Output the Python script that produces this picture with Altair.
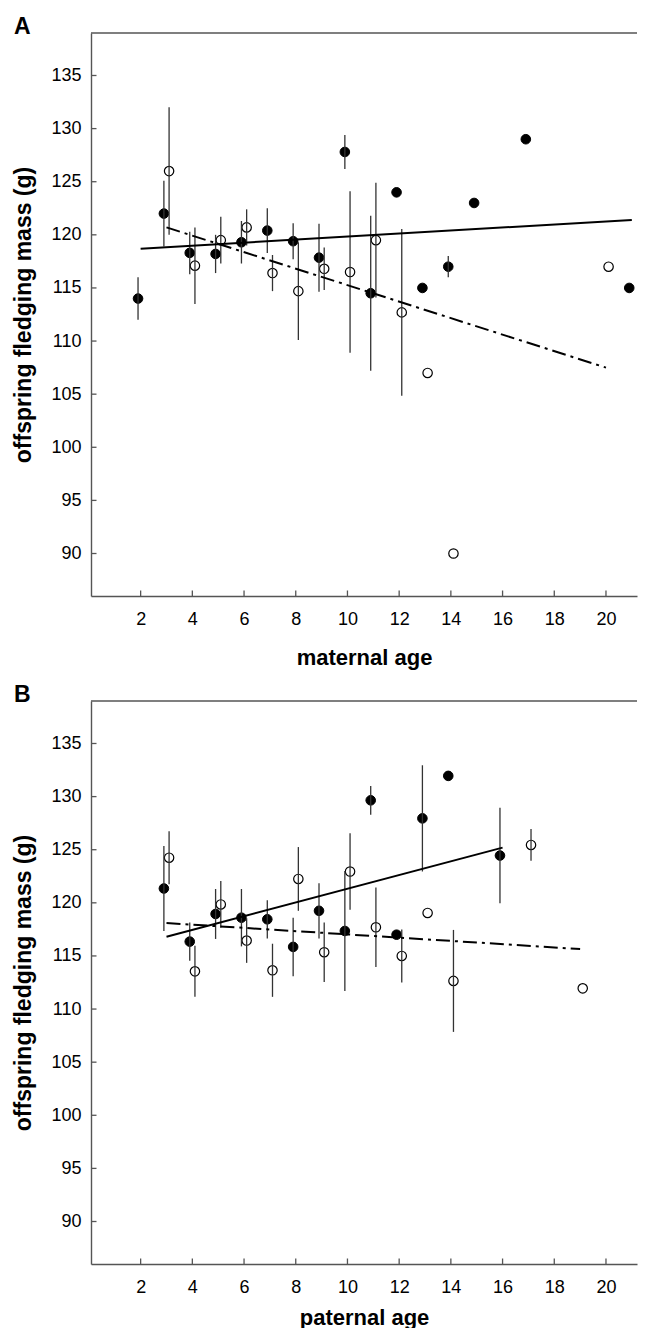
import altair as alt
import pandas as pd

# ---------------- data ----------------
# Panel A: maternal age
A_F_AGE = [2, 3, 4, 5, 6, 7, 8, 9, 10, 11, 12, 13, 14, 15, 17, 21]
A_F_MEAN = [114.0, 122.0, 118.3, 118.2, 119.3, 120.4, 119.4, 117.85, 127.8, 114.5, 124.0, 115.0, 117.0, 123.0, 129.0, 115.0]
A_F_ERR = [2.0, 3.1, 2.0, 1.8, 2.0, 2.1, 1.7, 3.2, 1.6, 7.3, 0, 0, 1.0, 0, 0, 0]

A_O_AGE = [3, 4, 5, 6, 7, 8, 9, 10, 11, 12, 13, 14, 20]
A_O_MEAN = [126.0, 117.1, 119.5, 120.7, 116.4, 114.7, 116.8, 116.5, 119.5, 112.7, 107.0, 90.0, 117.0]
A_O_ERR = [6.0, 3.6, 2.2, 1.7, 1.7, 4.6, 2.0, 7.6, 5.4, 7.85, 0, 0, 0]

A_SOLID_X = [2, 21]
A_SOLID_Y = [118.7, 121.4]
A_DASH_X = [3, 20]
A_DASH_Y = [120.7, 107.5]

# Panel B: paternal age
B_F_AGE = [3, 4, 5, 6, 7, 8, 9, 10, 11, 12, 13, 14, 16]
B_F_MEAN = [121.35, 116.35, 118.95, 118.6, 118.45, 115.85, 119.25, 117.35, 129.65, 117.0, 127.95, 131.95, 124.45]
B_F_ERR = [4.0, 1.8, 2.35, 2.7, 1.8, 2.75, 2.6, 5.65, 1.35, 0, 5.0, 0, 4.5]

B_O_AGE = [3, 4, 5, 6, 7, 8, 9, 10, 11, 12, 13, 14, 17, 19]
B_O_MEAN = [124.25, 113.55, 119.85, 116.45, 113.65, 122.25, 115.35, 122.95, 117.7, 115.0, 119.05, 112.65, 125.45, 111.95]
B_O_ERR = [2.5, 2.4, 2.2, 2.1, 2.5, 3.0, 2.8, 3.6, 3.75, 2.5, 0, 4.8, 1.5, 0]

B_SOLID_X = [3, 16]
B_SOLID_Y = [116.8, 125.2]
B_DASH_X = [3, 19]
B_DASH_Y = [118.1, 115.65]

X_TICKS = [2, 4, 6, 8, 10, 12, 14, 16, 18, 20]
Y_TICKS = [90, 95, 100, 105, 110, 115, 120, 125, 130, 135]
X_DOMAIN = [0.08, 21.2]
Y_DOMAIN = [86, 139]

Y_TITLE = "offspring fledging mass (g)"

# ---------------- styling ----------------
W, H = 546, 563
FONT = "Liberation Sans"
AX_COL = "#555555"


def panel(letter, xtitle, f_age, f_mean, f_err, o_age, o_mean, o_err,
          sx, sy, dx, dy, xtitle_pad):
    df_f = pd.DataFrame({"age": f_age, "mass": f_mean, "err": f_err})
    df_f["lo"] = df_f["mass"] - df_f["err"]
    df_f["hi"] = df_f["mass"] + df_f["err"]
    df_o = pd.DataFrame({"age": o_age, "mass": o_mean, "err": o_err})
    df_o["lo"] = df_o["mass"] - df_o["err"]
    df_o["hi"] = df_o["mass"] + df_o["err"]
    df_s = pd.DataFrame({"age": sx, "mass": sy})
    df_d = pd.DataFrame({"age": dx, "mass": dy})

    xs = alt.Scale(domain=X_DOMAIN, nice=False, zero=False)
    ys = alt.Scale(domain=Y_DOMAIN, nice=False, zero=False)

    xaxis = alt.Axis(values=X_TICKS, tickSize=0, grid=False, labelFontSize=18,
                     labelFont=FONT, labelColor="black", labelPadding=14,
                     titleFont=FONT, titleFontSize=22, titleFontWeight="bold",
                     titleColor="black", titlePadding=xtitle_pad,
                     domainColor=AX_COL, domainWidth=1.4, labelFlush=False)
    yaxis = alt.Axis(values=Y_TICKS, tickSize=0, grid=False, labelFontSize=18,
                     labelFont=FONT, labelColor="black", labelPadding=10,
                     titleFont=FONT, titleFontSize=23, titleFontWeight="bold",
                     titleColor="black", titlePadding=15,
                     domainColor=AX_COL, domainWidth=1.4)

    def X(f):
        return alt.X(f, scale=xs, axis=xaxis, title=xtitle)

    def Y(f):
        return alt.Y(f, scale=ys, axis=yaxis, title=Y_TITLE)

    base_f = alt.Chart(df_f)
    base_o = alt.Chart(df_o)

    err_f = base_f.mark_rule(color="#333333", strokeWidth=1.3, xOffset=-2.6).encode(
        x=X("age:Q"), y=Y("lo:Q"), y2="hi:Q")
    err_o = base_o.mark_rule(color="#333333", strokeWidth=1.3, xOffset=2.6).encode(
        x=X("age:Q"), y=Y("lo:Q"), y2="hi:Q")

    line_s = alt.Chart(df_s).mark_line(color="black", strokeWidth=2).encode(
        x=X("age:Q"), y=Y("mass:Q"))
    line_d = alt.Chart(df_d).mark_line(color="black", strokeWidth=2,
                                       strokeDash=[14, 5, 3, 5]).encode(
        x=X("age:Q"), y=Y("mass:Q"))

    pts_f = base_f.mark_point(shape="circle", filled=True, fill="black", stroke="black",
                              strokeWidth=1, size=92, opacity=1, xOffset=-2.6).encode(
        x=X("age:Q"), y=Y("mass:Q"))
    pts_o = base_o.mark_point(shape="circle", filled=True, fill="white", stroke="black",
                              strokeWidth=1.2, size=88, opacity=1, xOffset=2.6).encode(
        x=X("age:Q"), y=Y("mass:Q"))

    ytick_df = pd.DataFrame({"v": Y_TICKS})
    xtick_df = pd.DataFrame({"v": X_TICKS})
    yticks = alt.Chart(ytick_df).mark_rule(color=AX_COL, strokeWidth=1.3).encode(
        y=Y("v:Q"), x=alt.value(0), x2=alt.value(5.5))
    xticks = alt.Chart(xtick_df).mark_rule(color=AX_COL, strokeWidth=1.3).encode(
        x=X("v:Q"), y=alt.value(H), y2=alt.value(H - 5.5))
    top = alt.Chart(pd.DataFrame({"z": [0]})).mark_rule(color=AX_COL, strokeWidth=1.4).encode(
        x=alt.value(0), x2=alt.value(W), y=alt.value(0))

    return alt.layer(pts_f, pts_o, err_f, err_o, line_s, line_d, yticks, xticks, top).properties(
        width=W, height=H,
        title=alt.TitleParams(letter, anchor="start", dx=1, fontSize=23, font=FONT,
                              fontWeight="bold", color="black", offset=-7))


pa = panel("A", "maternal age", A_F_AGE, A_F_MEAN, A_F_ERR, A_O_AGE, A_O_MEAN, A_O_ERR,
           A_SOLID_X, A_SOLID_Y, A_DASH_X, A_DASH_Y, 19)
pb = panel("B", "paternal age", B_F_AGE, B_F_MEAN, B_F_ERR, B_O_AGE, B_O_MEAN, B_O_ERR,
           B_SOLID_X, B_SOLID_Y, B_DASH_X, B_DASH_Y, 11)

chart = alt.vconcat(pa, pb, spacing=16).properties(
    padding={"left": 4, "top": 8, "right": 0, "bottom": 0}
).configure_view(stroke=None)

chart.save("out.html", embed_options={"renderer": "svg", "actions": False})
